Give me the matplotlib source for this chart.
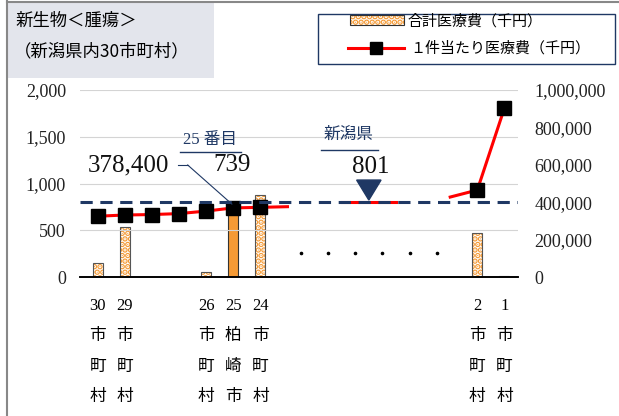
import matplotlib.pyplot as plt
from matplotlib.patches import Rectangle, Polygon
from matplotlib.lines import Line2D

plt.rcParams['font.family'] = ['Liberation Serif', 'Noto Sans CJK JP', 'DejaVu Sans']
plt.rcParams['hatch.linewidth'] = 3.0

# slot positions: 0..6 -> ranks 30..24, 14 -> rank 2, 15 -> rank 1
slots = [0, 1, 2, 3, 4, 5, 6, 14, 15]
ranks = ["30", "29", "28", "27", "26", "25", "24", "2", "1"]
names = ["市町村", "市町村", "", "", "市町村", "柏崎市", "市町村", "市町村", "市町村"]

# total cost (thousand yen), right axis
total_cost = [74000, 266000, 0, 0, 27000, 378400, 436000, 234000, 8000]
# cost per case (thousand yen), left axis
per_case_low = [650, 663, 668, 678, 705, 739, 745]
per_case_low_next = 752          # rank 23, line only
per_case_high_prev = 855         # rank 3, line only
per_case_high = [930, 1807]
pref_avg = 801
pref_slot = 10
dot_slots = [7.5, 8.5, 9.5, 10.5, 11.5, 12.5]
dot_level = 257

NAVY = "#1F3864"
ORANGE = "#F59A35"
RED = "#FF0000"

fig = plt.figure(figsize=(6.19, 4.16), dpi=100)
ax = fig.add_axes([80 / 619, 139 / 416, 438 / 619, 187 / 416])
axb = ax.twinx()
ax.set_zorder(axb.get_zorder() + 1)
ax.patch.set_visible(False)

# bars
bw = 0.37
for s, v, r in zip(slots, total_cost, ranks):
    if v <= 0:
        continue
    if r == "25":
        axb.bar(s, v, width=bw, color=ORANGE, edgecolor="#333333", linewidth=0.8)
    else:
        axb.bar(s, v, width=bw, color="white", edgecolor=ORANGE, hatch="...", linewidth=0)
        axb.bar(s, v, width=bw, fill=False, edgecolor="#555555", linewidth=0.8)

# per-case lines
low_x = slots[:7]
ax.plot(low_x + [7], per_case_low + [per_case_low_next], color=RED, lw=2.2, zorder=3)
ax.plot(low_x, per_case_low, ls="none", marker="s", ms=10, color="black", zorder=4)
ax.plot([pref_slot - 1, pref_slot + 1], [pref_avg - 4, pref_avg - 4], color=RED, lw=2.2, zorder=3)
ax.plot([13, 14, 15], [per_case_high_prev] + per_case_high, color=RED, lw=2.2, zorder=3)
ax.plot([14, 15], per_case_high, ls="none", marker="s", ms=10, color="black", zorder=4)

# prefecture average dashed line
ax.axhline(pref_avg, color=NAVY, lw=2.2, ls=(0, (4, 2.5)), zorder=5)

# dots for omitted municipalities
ax.plot(dot_slots, [dot_level] * len(dot_slots), ls="none", marker="o", ms=1.6, color="black")

ax.set_xlim(-0.65, 15.5)
ax.set_ylim(0, 2000)
ax.set_yticks([0, 500, 1000, 1500, 2000])
ax.set_yticklabels(["0", "500", "1,000", "1,500", "2,000"], fontsize=13, color="#222222")
axb.set_ylim(0, 1000000)
axb.set_yticks([0, 200000, 400000, 600000, 800000, 1000000])
axb.set_yticklabels(["0", "200,000", "400,000", "600,000", "800,000", "1,000,000"],
                    fontsize=13, color="#222222")
ax.grid(axis="y", color="#D4D4D4", lw=0.8)
ax.set_axisbelow(True)

xt = [s for s, n in zip(slots, names) if n]
xl = [r + "\n" + "\n".join(n) for r, n in zip(ranks, names) if n]
ax.set_xticks(xt)
ax.set_xticklabels(xl, fontsize=12, linespacing=2.2, va="top")
ax.tick_params(axis="x", length=0, pad=15)
ax.tick_params(axis="y", length=0, pad=10)
axb.tick_params(axis="y", length=0, pad=12)
for a in (ax, axb):
    for side in ("left", "right", "top"):
        a.spines[side].set_visible(False)
    a.spines["bottom"].set_color("black")
    a.spines["bottom"].set_linewidth(1.2)

# annotations
ax.plot([2.95, 3.32], [1198, 1198], color=NAVY, lw=0.8)
ax.plot([3.32, 4.95], [1198, 780], color=NAVY, lw=0.8, zorder=6)
ax.text(2.65, 1198, "378,400", fontsize=18, ha="right", va="center", color="#111111")
ax.text(4.94, 1198, "739", fontsize=18, ha="center", va="center", color="#111111")
ax.text(4.13, 1465, "25 番目", fontsize=12, ha="center", va="center", color=NAVY)
ax.plot([3.02, 5.3], [1337, 1337], color=NAVY, lw=1.0)
ax.text(9.25, 1519, "新潟県", fontsize=12, ha="center", va="center", color=NAVY)
ax.plot([8.22, 10.32], [1358, 1358], color=NAVY, lw=1.0)
ax.text(pref_slot + 0.06, 1176, "801", fontsize=18, ha="center", va="center", color="#111111")
ax.add_patch(Polygon([[pref_slot - 0.45, 1037], [pref_slot + 0.45, 1037], [pref_slot, 823]],
                     closed=True, color=NAVY, zorder=6))

# frame border
fig.add_artist(Line2D([6.5 / 619, 6.5 / 619], [0, 1], color="#888888", lw=1.5))
fig.add_artist(Line2D([6.5 / 619, 1], [1 - 1.5 / 416, 1 - 1.5 / 416], color="#888888", lw=1.5))

# title box
fig.add_artist(Rectangle((8 / 619, 1 - 78 / 416), 206 / 619, 75 / 416,
                         facecolor="#E3E5EC", edgecolor="none"))
fig.text(15 / 619, 1 - 21 / 416, "新生物＜腫瘍＞", fontsize=12.5, va="center", ha="left",
         family=['Noto Sans CJK JP'])
fig.text(14 / 619, 1 - 51 / 416, "（新潟県内30市町村）", fontsize=12.5, va="center", ha="left",
         family=['Noto Sans CJK JP'])

# legend box
fig.add_artist(Rectangle((318 / 619, 1 - 64 / 416), 297 / 619, 50 / 416,
                         facecolor="white", edgecolor=NAVY, lw=1.0))
fig.add_artist(Rectangle((350 / 619, 1 - 25 / 416), 54 / 619, 10 / 416, facecolor="white",
                         edgecolor=ORANGE, hatch="...", lw=0))
fig.add_artist(Rectangle((350 / 619, 1 - 25 / 416), 54 / 619, 10 / 416, fill=False,
                         edgecolor="#333333", lw=0.8))
fig.text(408 / 619, 1 - 21 / 416, "合計医療費（千円）", fontsize=10.8, va="center", ha="left")
fig.add_artist(Line2D([348 / 619, 404 / 619], [1 - 48 / 416] * 2, color=RED, lw=2.2))
fig.add_artist(Line2D([376 / 619], [1 - 48 / 416], marker="s", ms=8, color="black"))
fig.text(410 / 619, 1 - 48 / 416, "１件当たり医療費（千円）", fontsize=10.8, va="center", ha="left")

fig.savefig("out.png", dpi=100)
